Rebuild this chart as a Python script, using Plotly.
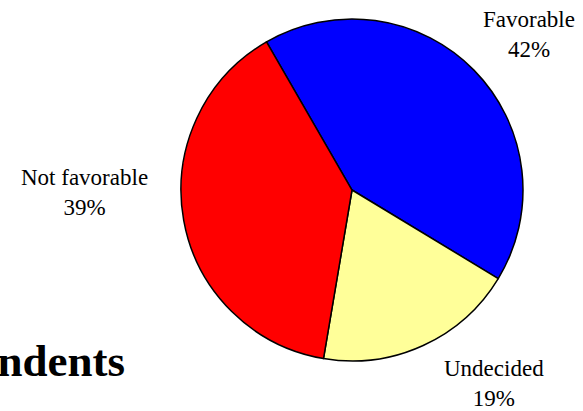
import plotly.graph_objects as go

labels = ["Favorable", "Undecided", "Not favorable"]
values = [42, 19, 39]
colors = ["#0000FF", "#FFFF99", "#FF0000"]

# label positions (paper coords), one per slice
label_x = [529 / 583, 494 / 583, 84 / 583]
label_y = [1 - 34 / 411, 1 - 383 / 411, 1 - 192 / 411]

W, H = 583, 411
cx, cy, r = 352, 190, 171

fig = go.Figure(go.Pie(
    labels=labels,
    values=values,
    sort=False,
    direction="clockwise",
    rotation=-30,
    marker=dict(colors=colors, line=dict(color="black", width=1.5)),
    textinfo="none",
    hoverinfo="label+percent",
    showlegend=False,
    domain=dict(x=[(cx - r) / W, (cx + r) / W],
                y=[(H - cy - r) / H, (H - cy + r) / H]),
))

total = sum(values)
for lab, v, x, y in zip(labels, values, label_x, label_y):
    fig.add_annotation(
        x=x, y=y, xref="paper", yref="paper",
        text=f"{lab}<br>{round(100 * v / total)}%",
        showarrow=False, xanchor="center", yanchor="middle",
        font=dict(family="Liberation Serif", size=23, color="black"),
    )

# title, cut off on the left in the original
fig.add_annotation(
    x=127 / W, y=1 - 361 / H, xref="paper", yref="paper",
    text="<b>Respondents</b>", showarrow=False,
    xanchor="right", yanchor="middle",
    font=dict(family="Liberation Serif", size=45, color="black"),
)

fig.update_layout(
    width=W, height=H,
    margin=dict(l=0, r=0, t=0, b=0),
    paper_bgcolor="white",
    plot_bgcolor="white",
)

fig.write_html("out.html", config={"displayModeBar": False},
               post_script="document.body.style.margin = '0';")
